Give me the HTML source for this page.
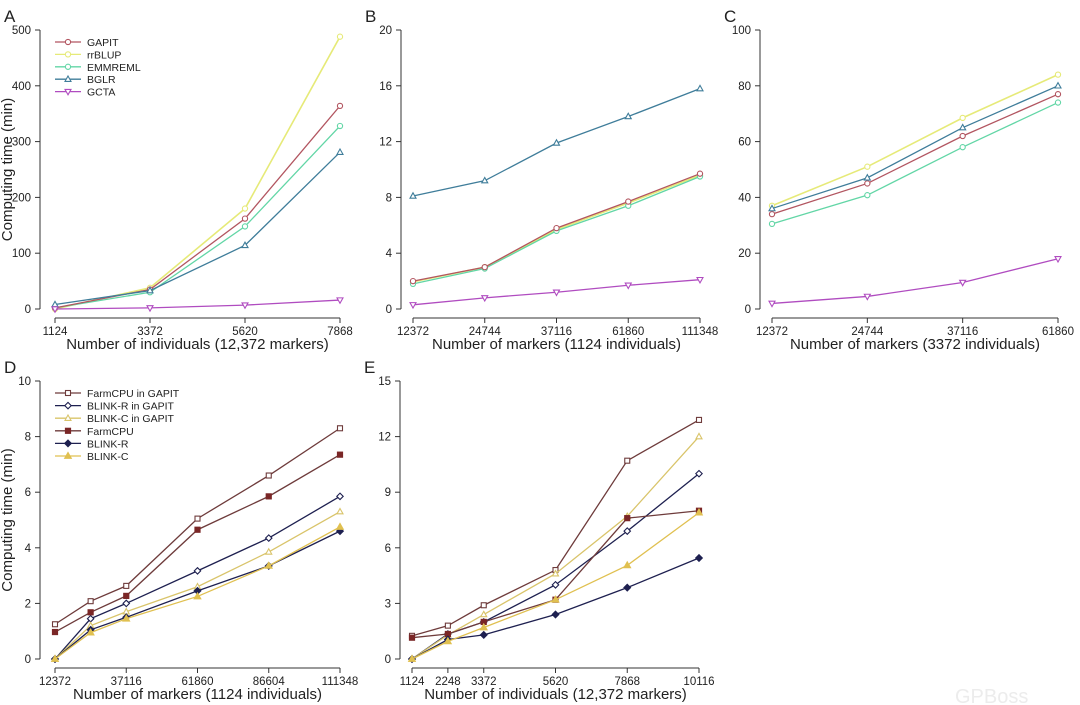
<!DOCTYPE html>
<html><head><meta charset="utf-8"><style>
body{margin:0;background:#fff;}
svg{display:block;font-family:"Liberation Sans",sans-serif;}
</style></head><body>
<svg id="fig" width="1080" height="705" viewBox="0 0 1080 705">
<text x="955" y="703" font-size="20" fill="#ececec">GPBoss</text>
</svg>
<script>
// ---- Data ----
const catsA = [1124, 3372, 5620, 7868];
const gapitA = [2, 35, 162, 364];
const rrblupA = [0, 38, 180, 488];
const emmremlA = [2, 30, 148, 328];
const bglrA = [8, 33, 114, 281];
const gctaA = [0, 2, 7, 16];

const catsB = ["12372", "24744", "37116", "61860", "111348"];
const gapitB = [2.0, 3.0, 5.8, 7.7, 9.7];
const rrblupB = [1.95, 3.0, 5.7, 7.6, 9.6];
const emmremlB = [1.8, 2.9, 5.6, 7.4, 9.5];
const bglrB = [8.1, 9.2, 11.9, 13.8, 15.8];
const gctaB = [0.3, 0.8, 1.2, 1.7, 2.1];

const catsC = ["12372", "24744", "37116", "61860"];
const gapitC = [34, 45, 62, 77];
const rrblupC = [37, 51, 68.5, 84];
const emmremlC = [30.5, 40.8, 58, 74];
const bglrC = [36, 47, 65, 80];
const gctaC = [2, 4.5, 9.5, 18];

const xD = [12372, 24744, 37116, 61860, 86604, 111348];
const xDTicks = [12372, 37116, 61860, 86604, 111348];
const fcgD = [1.25, 2.08, 2.63, 5.05, 6.6, 8.3];
const brgD = [0, 1.45, 2.0, 3.17, 4.35, 5.85];
const bcgD = [0, 1.2, 1.7, 2.6, 3.85, 5.3];
const fcD = [0.97, 1.68, 2.27, 4.65, 5.85, 7.35];
const brD = [0, 1.05, 1.5, 2.45, 3.35, 4.6];
const bcD = [0, 0.95, 1.45, 2.25, 3.35, 4.75];

const xE = [1124, 2248, 3372, 5620, 7868, 10116];
const fcgE = [1.25, 1.8, 2.9, 4.8, 10.7, 12.9];
const brgE = [0, 1.35, 2.0, 4.0, 6.9, 10.0];
const bcgE = [0, 1.3, 2.4, 4.6, 7.7, 12.0];
const fcE = [1.15, 1.35, 2.0, 3.2, 7.6, 8.0];
const brE = [0, 1.05, 1.3, 2.4, 3.85, 5.45];
const bcE = [0, 0.95, 1.7, 3.2, 5.05, 7.9];

const ticksA = [0,100,200,300,400,500], ticksB=[0,4,8,12,16,20], ticksC=[0,20,40,60,80,100], ticksD=[0,2,4,6,8,10], ticksE=[0,3,6,9,12,15];

// ---- Drawing ----
const NS = "http://www.w3.org/2000/svg";
const svg = document.getElementById('fig');
function mk(tag, attrs, parent){const e=document.createElementNS(NS,tag);for(const k in attrs)e.setAttribute(k,attrs[k]);(parent||svg).appendChild(e);return e;}
function txt(x,y,s,size,anchor,parent,rot){const t=mk('text',{x:x,y:y,'font-size':size,'text-anchor':anchor||'middle',fill:'#222'},parent);if(rot)t.setAttribute('transform',`rotate(-90 ${x} ${y})`);t.textContent=s;return t;}

const C = {gapit:'#b25560', rrblup:'#e6ea78', emm:'#62d6a6', bglr:'#3f7d9a', gcta:'#b04cc0',
  brown:'#6e3b3b', dred:'#7a2626', navy:'#1e2050', yel:'#d9c46a', yel2:'#e0c050'};

function marker(g,type,x,y,col){
  let e;
  if(type==='o') e=mk('circle',{cx:x,cy:y,r:2.6,fill:'#fff',stroke:col,'stroke-width':1.1},g);
  else if(type==='sq') e=mk('rect',{x:x-2.5,y:y-2.5,width:5,height:5,fill:'#fff',stroke:col,'stroke-width':1.1},g);
  else if(type==='sqf') e=mk('rect',{x:x-2.6,y:y-2.6,width:5.2,height:5.2,fill:col,stroke:col},g);
  else if(type==='di') e=mk('polygon',{points:`${x},${y-3.2} ${x+3.2},${y} ${x},${y+3.2} ${x-3.2},${y}`,fill:'#fff',stroke:col,'stroke-width':1.1},g);
  else if(type==='dif') e=mk('polygon',{points:`${x},${y-3.4} ${x+3.4},${y} ${x},${y+3.4} ${x-3.4},${y}`,fill:col,stroke:col},g);
  else if(type==='tu') e=mk('polygon',{points:`${x},${y-3.2} ${x+3},${y+2.2} ${x-3},${y+2.2}`,fill:'#fff',stroke:col,'stroke-width':1.1},g);
  else if(type==='tuf') e=mk('polygon',{points:`${x},${y-3.6} ${x+3.4},${y+2.4} ${x-3.4},${y+2.4}`,fill:col,stroke:col},g);
  else if(type==='td') e=mk('polygon',{points:`${x},${y+3.2} ${x+3},${y-2.2} ${x-3},${y-2.2}`,fill:'#fff',stroke:col,'stroke-width':1.1},g);
  
  
}

function panel(o){
  const g=mk('g',{});
  
  
  const yMax=o.yTicks[o.yTicks.length-1];
  const ys=v=>o.y0-(v/yMax)*(o.y0-o.y1);
  const n=o.xvals.length;
  const xs=o.numeric?(v=>o.x0+(v-o.xvals[0])/(o.xvals[n-1]-o.xvals[0])*(o.x1-o.x0)):(i=>o.x0+i/(n-1)*(o.x1-o.x0));
  const xpos=i=>o.numeric?xs(o.xvals[i]):xs(i);
  const L=txt(o.ax-36,o.y1-8,o.letter,17,'start',g); 
  const ya=mk('line',{x1:o.ax,y1:o.y1,x2:o.ax,y2:o.y0,stroke:'#333','stroke-width':1},g);
  
  o.yTicks.forEach(t=>{const y=ys(t);mk('line',{x1:o.ax-5,y1:y,x2:o.ax,y2:y,stroke:'#333'},g);const tt=txt(o.ax-9,y+4,String(t),11.5,'end',g);});
  const ay=o.y0+9;
  const xa=mk('line',{x1:o.x0,y1:ay,x2:o.x1,y2:ay,stroke:'#333'},g);
  
  const tl=o.xTicks||o.xvals;
  tl.forEach((t,i)=>{const x=o.numeric?xs(t):xs(i);mk('line',{x1:x,y1:ay,x2:x,y2:ay+5,stroke:'#333'},g);const tt=txt(x,ay+17,String(t),11.5,'middle',g);});
  const xt=txt((o.x0+o.x1)/2,ay+31,o.xTitle,15,'middle',g);
  if(o.yTitle){const yt=txt(12,(o.y0+o.y1)/2,o.yTitle,15,'middle',g,true);}
  o.series.forEach(s=>{
    const sg=mk('g',{},g);
    
    
    const pts=s.v.map((v,i)=>`${xpos(i)},${ys(v)}`).join(' ');
    mk('polyline',{points:pts,fill:'none',stroke:s.lc||s.c,'stroke-width':s.w||1.3},sg);
    s.v.forEach((v,i)=>marker(sg,s.m,xpos(i),ys(v),s.c));
  });
  if(o.legend){
    const lg=mk('g',{},g);
    
    
    o.legend.forEach((s,i)=>{
      const y=o.ly+i*o.lh;
      const eg=mk('g',{},lg);
      
      
      mk('line',{x1:o.lx,y1:y,x2:o.lx+26,y2:y,stroke:s.lc||s.c,'stroke-width':1.3},eg);
      marker(eg,s.m,o.lx+13,y,s.c);
      txt(o.lx+32,y+4,s.label,10.5,'start',eg);
    });
  }
}

const serA=(g,r,e,b,c)=>[
  {key:'gapit',label:'GAPIT',v:g,c:C.gapit,m:'o'},
  {key:'rrblup',label:'rrBLUP',v:r,c:C.rrblup,m:'o',w:1.6},
  {key:'emmreml',label:'EMMREML',v:e,c:C.emm,m:'o'},
  {key:'bglr',label:'BGLR',v:b,c:C.bglr,m:'tu'},
  {key:'gcta',label:'GCTA',v:c,c:C.gcta,m:'td'}];
const ordA=s=>[s[1],s[2],s[0],s[3],s[4]];

const sA=serA(gapitA,rrblupA,emmremlA,bglrA,gctaA);
panel({name:'panel-a',letter:'A',ax:40,x0:55,x1:340,y0:309,y1:30,xvals:catsA,numeric:true,yTicks:ticksA,
  xTitle:'Number of individuals (12,372 markers)',yTitle:'Computing time (min)',series:ordA(sA),legend:sA,lx:55,ly:42,lh:12.4});
panel({name:'panel-b',letter:'B',ax:401,x0:413,x1:700,y0:309,y1:30,xvals:catsB,numeric:false,yTicks:ticksB,
  xTitle:'Number of markers (1124 individuals)',series:ordA(serA(gapitB,rrblupB,emmremlB,bglrB,gctaB))});
panel({name:'panel-c',letter:'C',ax:760,x0:772,x1:1058,y0:309,y1:30,xvals:catsC,numeric:false,yTicks:ticksC,
  xTitle:'Number of markers (3372 individuals)',series:ordA(serA(gapitC,rrblupC,emmremlC,bglrC,gctaC))});

const serD=(a,b,c,d,e,f)=>[
  {key:'farmcpu-in-gapit',label:'FarmCPU in GAPIT',v:a,c:C.brown,m:'sq'},
  {key:'blink-r-in-gapit',label:'BLINK-R in GAPIT',v:b,c:C.navy,m:'di'},
  {key:'blink-c-in-gapit',label:'BLINK-C in GAPIT',v:c,c:C.yel,m:'tu'},
  {key:'farmcpu',label:'FarmCPU',v:d,c:C.dred,lc:C.brown,m:'sqf'},
  {key:'blink-r',label:'BLINK-R',v:e,c:C.navy,m:'dif'},
  {key:'blink-c',label:'BLINK-C',v:f,c:C.yel2,m:'tuf'}];
const sD=serD(fcgD,brgD,bcgD,fcD,brD,bcD);
panel({name:'panel-d',letter:'D',ax:40,x0:55,x1:340,y0:659,y1:381,xvals:xD,xTicks:xDTicks,numeric:true,yTicks:ticksD,
  xTitle:'Number of markers (1124 individuals)',yTitle:'Computing time (min)',series:sD,legend:sD,lx:55,ly:393,lh:12.6});
panel({name:'panel-e',letter:'E',ax:400,x0:412,x1:699,y0:659,y1:381,xvals:xE,numeric:true,yTicks:ticksE,
  xTitle:'Number of individuals (12,372 markers)',series:serD(fcgE,brgE,bcgE,fcE,brE,bcE)});
</script>
</body></html>
